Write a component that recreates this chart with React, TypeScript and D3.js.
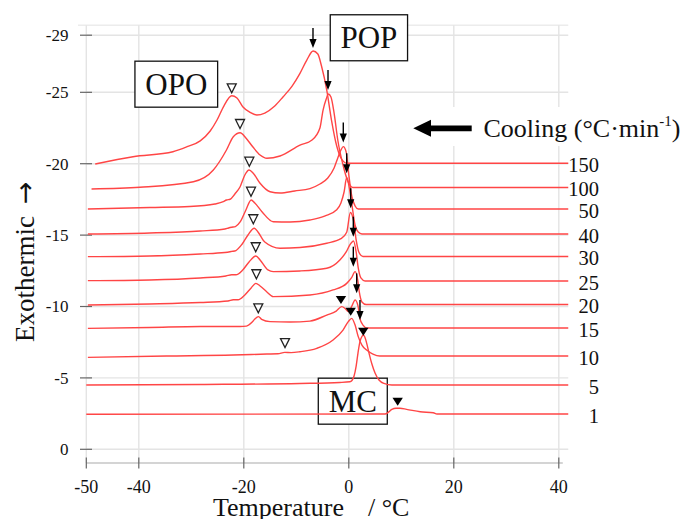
import React from "react";
import * as d3 from "d3";

type Pt = [number, number];

// cooling rates (°C/min), top trace first
const rates = ["150", "100", "50", "40", "30", "25", "20", "15", "10", "5", "1"];

// DSC traces, [temperature °C, exothermic value]
const trace150: Pt[] = [
  [-48.3, 19.98], [-41.1, 20.49], [-33.5, 20.84], [-30.8, 21.19], [-28.3, 21.6], [-26.4, 22.29],
  [-25.1, 23.06], [-23.8, 24.04], [-22.3, 24.76], [-21.3, 24.6], [-20.2, 23.99], [-18.8, 23.59],
  [-17.5, 23.41], [-16.0, 23.55], [-14.1, 24.04], [-12.5, 24.69], [-10.8, 25.44], [-9.3, 26.33],
  [-8.0, 27.26], [-6.8, 27.89], [-5.9, 27.68], [-5.2, 26.84], [-4.2, 25.16], [-3.3, 23.06],
  [-2.3, 21.24], [-1.5, 20.4], [-0.3, 20.03], [41.8, 20.03],
];
const trace100: Pt[] = [
  [-49.0, 18.23], [-39.8, 18.35], [-29.6, 18.74], [-25.8, 19.56], [-23.3, 20.96], [-22.0, 21.89],
  [-20.7, 22.17], [-19.6, 21.8], [-18.3, 21.19], [-16.9, 20.61], [-15.6, 20.38], [-13.1, 20.54],
  [-9.3, 21.3], [-7.0, 21.66], [-5.5, 22.5], [-4.9, 23.76], [-4.3, 24.53], [-3.9, 24.88],
  [-3.4, 24.67], [-2.8, 23.55], [-2.1, 21.66], [-1.1, 19.91], [-0.2, 18.79], [0.8, 18.33], [41.8, 18.33],
];
const trace50: Pt[] = [
  [-49.7, 16.83], [-37.9, 16.93], [-30.3, 17.0], [-25.5, 17.18], [-23.9, 17.34], [-23.3, 17.46],
  [-22.6, 17.51], [-21.7, 17.88], [-20.7, 18.39], [-19.8, 19.21], [-19.0, 19.56], [-18.2, 19.33],
  [-16.9, 18.63], [-15.0, 18.04], [-13.1, 17.95], [-10.3, 18.09], [-7.4, 18.26], [-5.5, 18.58],
  [-4.0, 19.0], [-2.8, 19.7], [-2.1, 20.4], [-1.5, 20.96], [-1.05, 21.2], [-0.5, 20.82],
  [0.0, 19.21], [0.6, 17.67], [1.2, 17.04], [1.8, 16.83], [41.8, 16.83],
];
const trace40: Pt[] = [
  [-49.7, 15.08], [-37.9, 15.15], [-28.3, 15.29], [-23.6, 15.43], [-22.9, 15.5], [-22.3, 15.55],
  [-21.6, 15.6], [-20.7, 15.92], [-19.6, 16.76], [-18.6, 17.46], [-17.9, 17.25], [-16.5, 16.62],
  [-14.4, 15.94], [-11.2, 15.92], [-7.4, 16.06], [-4.5, 16.34], [-2.3, 16.77], [-1.5, 17.25],
  [-0.9, 18.02], [-0.4, 19.03], [0.0, 18.5], [0.6, 17.1], [1.2, 15.7], [1.8, 15.21], [2.5, 15.08],
  [41.8, 15.08],
];
const trace30: Pt[] = [
  [-49.7, 13.49], [-37.9, 13.54], [-28.3, 13.68], [-23.6, 13.78], [-22.3, 13.86], [-21.5, 13.92],
  [-20.3, 14.38], [-19.2, 15.01], [-18.0, 15.48], [-17.3, 15.22], [-16.0, 14.52], [-13.1, 14.08],
  [-9.3, 14.13], [-4.2, 14.43], [-1.5, 14.75], [-0.4, 15.2], [0.3, 16.58], [0.9, 16.0],
  [1.4, 14.66], [1.9, 13.82], [2.7, 13.5], [41.8, 13.5],
];
const trace25: Pt[] = [
  [-49.7, 11.81], [-37.9, 11.86], [-28.3, 12.0], [-23.4, 12.14], [-22.3, 12.22], [-21.5, 12.22],
  [-20.2, 12.56], [-19.0, 13.12], [-17.7, 13.54], [-16.9, 13.26], [-15.4, 12.56], [-14.4, 12.44],
  [-9.3, 12.49], [-4.2, 12.68], [-1.7, 13.26], [-0.5, 13.82], [0.2, 14.31], [0.9, 14.59],
  [1.4, 13.82], [1.8, 12.7], [2.3, 12.0], [3.1, 11.79], [41.8, 11.79],
];
const trace20: Pt[] = [
  [-49.7, 10.11], [-37.9, 10.18], [-28.3, 10.28], [-23.0, 10.39], [-22.0, 10.47], [-21.1, 10.47],
  [-19.8, 10.81], [-18.6, 11.3], [-17.7, 11.62], [-16.9, 11.44], [-15.6, 11.02], [-14.4, 10.69],
  [-7.4, 10.81], [-3.0, 11.16], [-0.4, 11.62], [0.5, 12.0], [1.2, 12.44], [1.7, 11.86],
  [2.0, 11.02], [2.5, 10.32], [3.3, 10.14], [41.8, 10.14],
];
const trace15: Pt[] = [
  [-49.7, 8.47], [-37.9, 8.53], [-28.3, 8.6], [-20.7, 8.6], [-19.5, 8.63], [-18.4, 8.91],
  [-17.9, 9.12], [-17.2, 9.29], [-16.6, 9.1], [-15.0, 8.94], [-11.2, 8.91], [-7.4, 8.98],
  [-4.2, 9.4], [-2.4, 9.68], [-1.35, 9.99], [-0.7, 9.86], [-0.1, 9.64], [0.6, 10.04],
  [1.2, 10.46], [1.75, 10.04], [2.1, 9.19], [2.7, 8.7], [3.5, 8.49], [41.8, 8.49],
];
const trace10: Pt[] = [
  [-49.7, 6.44], [-34.7, 6.53], [-22.0, 6.6], [-15.6, 6.67], [-13.5, 6.69], [-12.2, 6.79],
  [-11.0, 6.77], [-9.3, 6.83], [-6.1, 7.07], [-3.0, 7.65], [-1.1, 8.35], [-0.1, 8.94],
  [0.55, 9.17], [1.2, 8.7], [1.8, 7.89], [2.5, 7.3], [3.4, 6.95], [4.6, 6.67], [5.9, 6.53],
  [41.8, 6.53],
];
const trace5: Pt[] = [
  [-50.0, 4.5], [-28.3, 4.54], [-9.3, 4.61], [-1.7, 4.68], [0.2, 4.73], [0.6, 4.82], [1.0, 5.13],
  [1.4, 5.83], [1.75, 6.74], [2.1, 7.51], [2.5, 7.9], [2.76, 8.0], [3.0, 7.9], [3.4, 7.44],
  [3.85, 6.74], [4.4, 5.97], [5.0, 5.34], [5.75, 4.85], [6.7, 4.61], [8.2, 4.5], [41.8, 4.5],
];
const trace1: Pt[] = [
  [-50.0, 2.45], [6.9, 2.47], [7.5, 2.58], [8.2, 2.79], [9.0, 2.87], [9.75, 2.87], [11.0, 2.8],
  [13.6, 2.63], [16.1, 2.56], [16.8, 2.47], [41.8, 2.47],
];

const traces = [trace150, trace100, trace50, trace40, trace30, trace25, trace20, trace15, trace10, trace5, trace1];

// open triangles (OPO peaks), filled triangles (MC peaks), arrows (POP peaks)
const opoMarks: Pt[] = [
  [-22.3, 25.28], [-20.72, 22.78], [-18.95, 20.14], [-18.63, 18.04], [-18.19, 16.11],
  [-17.73, 14.15], [-17.6, 12.26], [-17.24, 9.87], [-12.15, 7.44],
];
const mcMarks: Pt[] = [[-1.49, 10.46], [0.36, 9.64], [2.76, 8.24], [9.31, 3.33]];
const popArrows: Pt[] = [
  [-6.82, 28.1], [-3.96, 25.16], [-1.05, 21.48], [-0.4, 19.33], [0.36, 16.88],
  [0.86, 14.89], [0.86, 12.79], [1.5, 10.92], [2.13, 9.05],
];

const xTicks = [-50, -40, -20, 0, 20, 40];
const yTicks = [0, 5, 10, 15, 20, 25, 29];

const serif = "Liberation Serif, Times New Roman, serif";

export default function App() {
  const width = 683;
  const height = 519;

  const x = d3.scaleLinear().domain([-50, 40]).range([86.3, 558.8]);
  const y = d3.scaleLinear().domain([0, 29]).range([449.3, 35.2]);
  const right = x(41.8);
  const top = y(29.7);
  const axisY = 463;

  const line = d3
    .line<Pt>()
    .x(d => x(d[0]))
    .y(d => y(d[1]))
    .curve(d3.curveMonotoneX);

  // boxed labels, centre in data units
  const boxes = [
    { text: "OPO", t: -32.86, v: 25.57, w: 82.7 },
    { text: "POP", t: 3.83, v: 28.82, w: 77.3 },
    { text: "MC", t: 0.76, v: 3.37, w: 69 },
  ];

  return (
    <svg
      width={width}
      height={height}
      style={{ position: "absolute", left: 0, top: 0, background: "#fff", fontFamily: serif }}
    >
      <rect width={width} height={height} fill="#fff" />

      {/* grid */}
      {yTicks.map(v => (
        <line key={"gy" + v} x1={x(-50)} x2={right} y1={y(v)} y2={y(v)} stroke="#e4e4e4" strokeWidth={1.4} />
      ))}
      <line x1={78} x2={right} y1={top} y2={top} stroke="#ececec" strokeWidth={1.4} />
      {xTicks.map(t => (
        <line key={"gx" + t} x1={x(t)} x2={x(t)} y1={top} y2={axisY} stroke="#e4e4e4" strokeWidth={1.4} />
      ))}

      {/* x axis */}
      <line x1={x(-50)} x2={x(40) + 4} y1={axisY} y2={axisY} stroke="#aaa" strokeWidth={1.2} />
      {xTicks.map(t => (
        <g key={"xt" + t}>
          <line x1={x(t)} x2={x(t)} y1={axisY - 5.5} y2={axisY + 5.5} stroke="#666" strokeWidth={1.2} />
          <text x={x(t)} y={493} fontSize={18} fontFamily={serif} textAnchor="middle" fill="#111">
            {t}
          </text>
        </g>
      ))}

      {/* y axis */}
      {yTicks.map(v => (
        <g key={"yt" + v}>
          <line x1={80} x2={92} y1={y(v)} y2={y(v)} stroke="#666" strokeWidth={1.2} />
          <text x={68.5} y={y(v)} dy="0.35em" fontSize={17} fontFamily={serif} textAnchor="end" fill="#111">
            {v === 0 ? "0" : "-" + v}
          </text>
        </g>
      ))}

      {/* boxed labels */}
      {boxes.map(b => (
        <g key={b.text}>
          <rect
            x={x(b.t) - b.w / 2}
            y={y(b.v) - 23}
            width={b.w}
            height={46}
            fill="#fff"
            stroke="#111"
            strokeWidth={1.3}
          />
          <text x={x(b.t)} y={y(b.v) + 10.5} fontSize={31} fontFamily={serif} textAnchor="middle" fill="#111">
            {b.text}
          </text>
        </g>
      ))}

      {/* cooling legend */}
      <rect x={403} y={107} width={280} height={39} fill="#fff" />
      <polygon
        points={[
          [413.3, 128.3], [431, 119.8], [431, 125.4], [471.7, 125.4],
          [471.7, 131.2], [431, 131.2], [431, 136.8],
        ].map(p => p.join(",")).join(" ")}
        fill="#000"
      />
      <text x={483.5} y={136.5} fontSize={26} fontFamily={serif} fill="#111">
        Cooling (°C·min
        <tspan fontSize={15} dy={-11}>-1</tspan>
        <tspan dy={11}>)</tspan>
      </text>

      {/* traces */}
      {traces.map((tr, i) => (
        <path key={"tr" + i} d={line(tr) || ""} fill="none" stroke="#ff4545" strokeWidth={1.4} />
      ))}

      {/* rate labels */}
      {traces.map((tr, i) => (
        <text
          key={"rl" + i}
          x={599}
          y={y(tr[tr.length - 1][1]) + 1.5}
          dy="0.35em"
          fontSize={20.5}
          fontFamily={serif}
          textAnchor="end"
          fill="#111"
        >
          {rates[i]}
        </text>
      ))}

      {/* OPO markers */}
      {opoMarks.map((m, i) => {
        const cx = x(m[0]);
        const cy = y(m[1]);
        return (
          <polygon
            key={"op" + i}
            points={`${cx - 4.5},${cy - 4.5} ${cx + 4.5},${cy - 4.5} ${cx},${cy + 4.5}`}
            fill="#fff"
            stroke="#222"
            strokeWidth={1.3}
          />
        );
      })}

      {/* MC markers */}
      {mcMarks.map((m, i) => {
        const cx = x(m[0]);
        const cy = y(m[1]);
        return (
          <polygon
            key={"mc" + i}
            points={`${cx - 5.2},${cy - 4} ${cx + 5.2},${cy - 4} ${cx},${cy + 4}`}
            fill="#000"
          />
        );
      })}

      {/* POP arrows */}
      {popArrows.map((a, i) => {
        const tx = x(a[0]);
        const ty = y(a[1]);
        return (
          <g key={"ar" + i}>
            <line x1={tx} x2={tx} y1={ty - 20} y2={ty - 7} stroke="#000" strokeWidth={1.4} />
            <polygon points={`${tx - 3.6},${ty - 9} ${tx + 3.6},${ty - 9} ${tx},${ty}`} fill="#000" />
          </g>
        );
      })}

      {/* axis titles */}
      <text x={213} y={516} fontSize={26} fontFamily={serif} fill="#111">
        Temperature
        <tspan x={368}>/ °C</tspan>
      </text>
      <text transform="translate(33.5,342) rotate(-90)" fontSize={27} fontFamily={serif} fill="#111">
        Exothermic
        <tspan dx={12} fontSize={27} fontFamily="DejaVu Sans">→</tspan>
      </text>
    </svg>
  );
}
